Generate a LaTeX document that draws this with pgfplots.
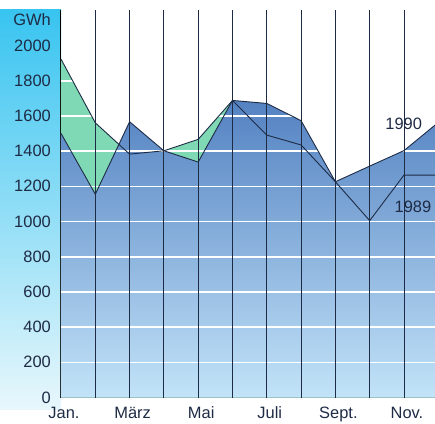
\documentclass[border=0pt]{standalone}
\usepackage{pgfplots}
\pgfplotsset{compat=1.18}
\usepackage{fontspec}
\setmainfont{Liberation Sans}
\definecolor{stripetop}{HTML}{38C4F0}
\definecolor{stripebot}{HTML}{E8F7FC}
\definecolor{bluetop}{HTML}{5482C2}
\definecolor{bluebot}{HTML}{C2E3F8}
\definecolor{mint}{HTML}{7ED9B4}
\definecolor{navy}{HTML}{1E2B45}
\newcommand{\lblfont}{\fontsize{16.5}{18}\selectfont}
\begin{document}
\begin{tikzpicture}
\useasboundingbox (-61bp,-26.5bp) rectangle (374bp,397.5bp);
\shade[top color=stripetop, bottom color=stripebot] (-61bp,-12bp) rectangle (0bp,387.5bp);
\begin{axis}[
  scale only axis,
  width=374bp, height=387.5bp,
  xmin=1, xmax=11.904, ymin=0, ymax=2202,
  axis x line=bottom, axis y line=left,
  axis line style={-, line width=1bp, black},
  xtick={1,...,11},
  xticklabels={Jan.,,März,,Mai,,Juli,,Sept.,,Nov.},
  ytick={0,200,...,2000},
  major tick length=0pt,
  tick label style={font=\lblfont, text=navy},
  /pgf/number format/assume math mode=true,
  /pgf/number format/1000 sep={},
  yticklabel style={anchor=east, inner sep=0pt, xshift=-10bp},
  xticklabel style={anchor=north, inner sep=0pt, yshift=-9bp, xshift=3bp},
]
% 1989 area (green), then 1990 area (blue) on top
\addplot[fill=mint, draw=none] coordinates {
 (1,1923) (2,1561) (3,1383) (4,1402) (5,1467) (6,1688)
 (7,1491) (8,1435) (9,1226) (10,1005) (11,1264) (12,1264)} \closedcycle;
\addplot[top color=bluetop, bottom color=bluebot, draw=none] coordinates {
 (1,1501) (2,1155) (3,1567) (4,1402) (5,1338) (6,1688)
 (7,1671) (8,1573) (9,1226) (10,1315) (11,1403) (12,1563)} \closedcycle;
% grid
\pgfplotsinvokeforeach{200,400,...,2000}{
  \draw[white, line width=1.6bp] (axis cs:1,#1) -- (axis cs:12,#1);}
\pgfplotsinvokeforeach{2,...,11}{
  \draw[navy, line width=0.8bp] (axis cs:#1,0) -- (axis cs:#1,2202);}
% lines
\addplot[navy, line width=0.9bp] coordinates {
 (1,1923) (2,1561) (3,1383) (4,1402) (5,1467) (6,1688)
 (7,1491) (8,1435) (9,1226) (10,1005) (11,1264) (12,1264)};
\addplot[navy, line width=0.9bp] coordinates {
 (1,1501) (2,1155) (3,1567) (4,1402) (5,1338) (6,1688)
 (7,1671) (8,1573) (9,1226) (10,1315) (11,1403) (12,1563)};
\node[font=\lblfont, text=navy] at (axis cs:10.99,1554) {1990};
\node[font=\lblfont, text=navy] at (axis cs:11.26,1084) {1989};
\end{axis}
\node[font=\lblfont, text=navy, anchor=east, inner sep=0pt]
  at (-10bp,377.5bp) {GWh};
\end{tikzpicture}
\end{document}
